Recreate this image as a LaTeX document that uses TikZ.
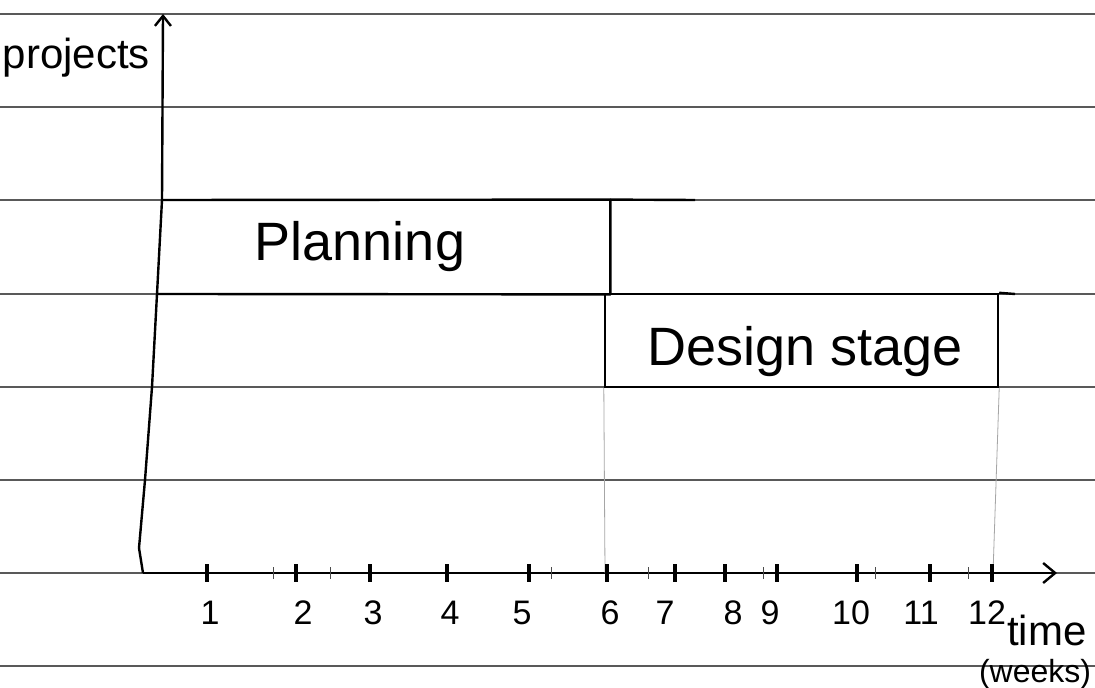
\documentclass[tikz,border=0pt]{standalone}
\usepackage{fontspec}
\setmainfont{Liberation Sans}
\usetikzlibrary{arrows.meta}
\begin{document}
\begin{tikzpicture}[x=0.5pt,y=-0.5pt,
  ruled/.style={draw=black!65,line width=0.75pt},
  pen/.style={draw=black,line width=1.2pt},
  faint/.style={draw=black!35,line width=0.4pt},
  major/.style={draw=black,line width=1.6pt},
  minor/.style={draw=black!70,line width=0.5pt},
  ticklab/.style={font=\fontsize{17}{17}\selectfont},
  barlab/.style={font=\fontsize{27}{27}\selectfont},
  axlab/.style={font=\fontsize{21}{21}\selectfont}]
\useasboundingbox (0,0) rectangle (1095,688);
\fill[white] (0,0) rectangle (1095,688);
% ruled paper lines
\foreach \yy in {14,107,200,294,387,480,573,666}
  \draw[ruled] (0,\yy) -- (1095,\yy);
% axes
\coordinate (origin) at (143,573);
\coordinate (ytop) at (163,14);
\coordinate (xend) at (1057,573);
\coordinate (axA) at (162,200);
\coordinate (axB) at (157,294);
\draw[pen,line join=round,-{Straight Barb[length=5pt,width=8pt]}] (origin) -- (139,548) -- (145,480) -- (152,387) -- (axB) -- (axA) -- (ytop);
\draw[pen,-{Straight Barb[length=6pt,width=10pt]}] (origin) -- (xend);
\node[axlab,anchor=east] (projects) at (157,58) {projects};
% bars
\node[minimum width=226pt,minimum height=47pt,inner sep=0pt] (planbox) at (384,247) {};
\draw[pen,line join=round] (axA) -- (planbox.north east) -- (planbox.south east) -- (axB);
\node[pen,minimum width=196.5pt,minimum height=46.5pt,inner sep=0pt] (designbox) at (801.5,340.5) {};
\draw[pen] (planbox.north east) -- (695,200);
\draw[pen] (designbox.north east) -- (1015,294);
\node[barlab] (planning) at (360,247) {Planning};
\node[barlab] (design) at (805,352) {Design stage};
% faint guide lines
\draw[faint] (designbox.south west) -- (605,573);
\draw[faint] (designbox.south east) -- (993,573);
% ticks
\foreach \xx in {273,330,551,648,763,875,968}
  \draw[minor] (\xx,567) -- (\xx,579);
\foreach \xx/\lab/\lx in {207/1/210,296/2/303,370/3/373,447/4/450,529/5/522,607/6/610,675/7/665,725/8/733,777/9/770,857/10/851,930/11/921,992/12/987}{
  \draw[major] (\xx,564) -- (\xx,582);
  \node[ticklab] at (\lx,613) {\lab};
}
\node[axlab,anchor=west] (time) at (1000,630) {time};
\node[font=\fontsize{16}{16}\selectfont,anchor=west] (weeks) at (972,674) {(weeks)};
\end{tikzpicture}
\end{document}
